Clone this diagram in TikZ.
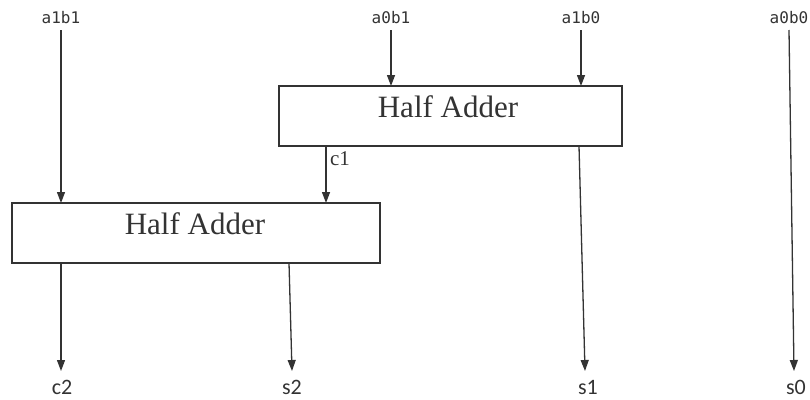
\documentclass[tikz,border=0pt]{standalone}
\usepackage{fontspec}
\setmainfont{Liberation Serif}
\newfontfamily\monof{DejaVu Sans Mono}
\newfontfamily\calf{Carlito}
\usetikzlibrary{arrows.meta}
\definecolor{ink}{HTML}{333333}
\begin{document}
\begin{tikzpicture}[x=1pt,y=-1pt,
  habox/.style={draw=ink,line width=1.4pt,minimum width=#1,minimum height=60pt,inner sep=0pt,outer sep=0pt},
  inlab/.style={font=\monof\fontsize{16}{16}\selectfont,text=ink,inner sep=0pt,anchor=base},
  outlab/.style={font=\calf\fontsize{22}{22}\selectfont,text=ink,inner sep=0pt,anchor=base},
  hatext/.style={font=\fontsize{31}{31}\selectfont,text=ink,inner sep=0pt,anchor=base},
  wire/.style={draw=ink,line width=1.3pt,-{Triangle[length=11pt,width=8pt]}}]
\useasboundingbox (0,0) rectangle (810,399);
\node[habox=343pt] (ha1) at (450.5,116) {};
\node[habox=368pt] (ha2) at (196,233) {};
\node[hatext] (t1) at (448,117) {Half Adder};
\node[hatext] (t2) at (195,234) {Half Adder};
\node[inlab] (a1b1) at (61,23) {a1b1};
\node[inlab] (a0b1) at (391,23) {a0b1};
\node[inlab] (a1b0) at (581,23) {a1b0};
\node[inlab] (a0b0) at (789,23) {a0b0};
\node[outlab] (c2) at (62,394) {c2};
\node[outlab] (s2) at (292,394) {s2};
\node[outlab] (s1) at (588,394) {s1};
\node[outlab] (s0) at (796,394) {s0};
\node[font=\fontsize{21}{21}\selectfont,text=ink,inner sep=0pt,anchor=base] (c1) at (340,165) {c1};
\coordinate (p1) at (61,30);
\coordinate (p2) at (391,30);
\coordinate (p3) at (581,30);
\coordinate (p4) at (789,30);
\coordinate (q1) at (61,371);
\coordinate (q2) at (292,371);
\coordinate (q3) at (585,371);
\coordinate (q4) at (794,371);
\coordinate (c1s) at (326,146);
\coordinate (s2s) at (289,263);
\coordinate (s1s) at (579,146);
\draw[wire] (p1) -- (p1 |- ha2.north);
\draw[wire] (p2) -- (p2 |- ha1.north);
\draw[wire] (p3) -- (p3 |- ha1.north);
\draw[wire] (p4) -- (q4);
\draw[wire] (c1s) -- (c1s |- ha2.north);
\draw[wire] (q1 |- ha2.south) -- (q1);
\draw[wire] (s2s) -- (q2);
\draw[wire] (s1s) -- (q3);
\end{tikzpicture}
\end{document}
